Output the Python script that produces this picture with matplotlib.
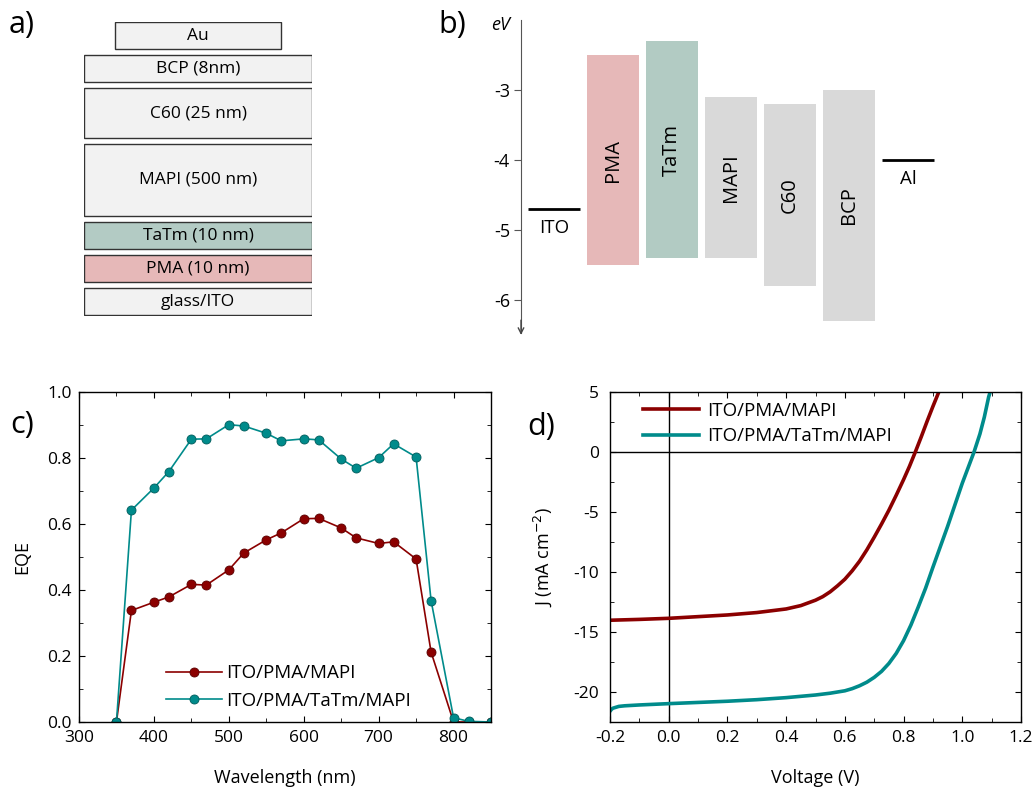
import matplotlib
matplotlib.use('Agg')
import matplotlib.pyplot as plt
from matplotlib.patches import Rectangle
from matplotlib.ticker import MultipleLocator

plt.rcParams['font.family'] = ['Open Sans', 'DejaVu Sans']
plt.rcParams['axes.unicode_minus'] = False

# ---- data ----
# a) device stack, top to bottom
stack_labels = ['Au', 'BCP (8nm)', 'C60 (25 nm)', 'MAPI (500 nm)', 'TaTm (10 nm)', 'PMA (10 nm)', 'glass/ITO']
stack_colors = ['#f2f2f2', '#f2f2f2', '#f2f2f2', '#f2f2f2', '#b3cbc4', '#e6b8b8', '#f2f2f2']

# b) energy levels (eV)
band_names = ['PMA', 'TaTm', 'MAPI', 'C60', 'BCP']
band_top = [-2.5, -2.3, -3.1, -3.2, -3.0]
band_bottom = [-5.5, -5.4, -5.4, -5.8, -6.3]
band_colors = ['#e6b8b8', '#b2cbc3', '#d9d9d9', '#d9d9d9', '#d9d9d9']
ito_level = -4.7
al_level = -4.0

# c) EQE
wl = [350, 370, 400, 420, 450, 470, 500, 520, 550, 570, 600, 620, 650, 670, 700, 720, 750, 770, 800, 820, 850]
eqe_pma = [0.0, 0.338, 0.363, 0.379, 0.417, 0.415, 0.461, 0.512, 0.552, 0.573, 0.616, 0.617, 0.588, 0.558,
           0.541, 0.546, 0.494, 0.212, 0.0, 0.0, 0.0]
eqe_tatm = [0.0, 0.642, 0.709, 0.759, 0.857, 0.858, 0.901, 0.897, 0.875, 0.852, 0.858, 0.855, 0.797, 0.769,
            0.801, 0.843, 0.803, 0.368, 0.013, 0.002, 0.0]

# d) J-V
v_pma = [-0.2, -0.1, 0.0, 0.1, 0.2, 0.3, 0.4, 0.45, 0.5, 0.525, 0.55, 0.575, 0.6, 0.625, 0.65, 0.675,
         0.7, 0.725, 0.75, 0.775, 0.8, 0.82, 0.84, 0.86, 0.88, 0.9, 0.92]
j_pma = [-14.02, -13.95, -13.86, -13.72, -13.58, -13.38, -13.08, -12.8, -12.35, -12.05, -11.65, -11.15,
         -10.6, -9.9, -9.1, -8.15, -7.1, -6.0, -4.85, -3.6, -2.3, -1.2, 0.0, 1.25, 2.55, 3.8, 5.0]
v_tatm = [-0.2, -0.195, -0.19, -0.17, -0.15, -0.1, 0.0, 0.1, 0.2, 0.3, 0.4, 0.5, 0.55, 0.6, 0.625, 0.65,
          0.675, 0.7, 0.725, 0.75, 0.775, 0.8, 0.825, 0.85, 0.875, 0.9, 0.925, 0.95, 0.975, 1.0, 1.02,
          1.04, 1.06, 1.075, 1.09, 1.095]
j_tatm = [-21.6, -21.45, -21.35, -21.2, -21.15, -21.08, -20.97, -20.87, -20.77, -20.64, -20.47, -20.25,
          -20.1, -19.9, -19.72, -19.48, -19.18, -18.78, -18.28, -17.62, -16.78, -15.72, -14.42, -12.92,
          -11.35, -9.6, -7.9, -6.2, -4.4, -2.6, -1.3, 0.0, 1.5, 2.9, 4.6, 5.0]

red = '#8b0000'
teal = '#008b8b'

W, H = 1034, 788
fig = plt.figure(figsize=(W / 100, H / 100), dpi=100)


def px_axes(left, top, right, bottom):
    return fig.add_axes([left / W, 1 - bottom / H, (right - left) / W, (bottom - top) / H])


# ---------- a) ----------
axa = px_axes(84, 22, 312, 316)
axa.set_xlim(0, 1)
axa.set_ylim(316, 22)
axa.axis('off')
heights = [27, 27, 50, 72, 27, 27, 27]
y = 22
for i, (lab, col) in enumerate(zip(stack_labels, stack_colors)):
    h = heights[i]
    x0, x1 = (0.136, 0.864) if lab == 'Au' else (0.0, 1.0)
    axa.add_patch(Rectangle((x0, y), x1 - x0, h, facecolor=col, edgecolor='#333333', lw=1.0))
    axa.text((x0 + x1) / 2, y + h / 2, lab, ha='center', va='center', fontsize=12.5)
    y += h + 6

# ---------- b) ----------
axb = px_axes(521, 20, 960, 333)
axb.set_ylim(-6.47, -2.0)
axb.set_xlim(0, 439 / 59)
for s in ['top', 'right', 'bottom']:
    axb.spines[s].set_visible(False)
axb.spines['left'].set_color('#555555')
axb.set_xticks([])
axb.set_yticks([-6, -5, -4, -3])
axb.tick_params(axis='y', direction='out', length=5, labelsize=13, color='#555555', pad=3)
axb.annotate('', xy=(0, -0.015), xycoords='axes fraction', xytext=(0, 0.05),
             arrowprops=dict(arrowstyle='->', lw=1.0, color='#444444'))
axb.text(-0.025, 0.985, 'eV', transform=axb.transAxes, ha='right', va='center', fontsize=13, style='italic')
for i, name in enumerate(band_names):
    xc = i + 1.56
    axb.bar(xc, band_top[i] - band_bottom[i], bottom=band_bottom[i], width=0.88, color=band_colors[i])
    axb.text(xc, (band_top[i] + band_bottom[i]) / 2, name, rotation=90, ha='center', va='center', fontsize=14.5)
axb.hlines([ito_level, al_level], [0.12, 6.12], [1.0, 7.0], color='black', lw=2)
axb.annotate('ITO', (0.56, ito_level), xytext=(0, -7), textcoords='offset points', ha='center', va='top', fontsize=13.5)
axb.annotate('Al', (6.56, al_level), xytext=(0, -7), textcoords='offset points', ha='center', va='top', fontsize=13.5)


def style_axes(ax, ypad):
    ax.tick_params(which='both', direction='in', top=True, right=True, labelsize=12.5)
    ax.tick_params(which='major', length=4)
    ax.tick_params(which='minor', length=3)
    ax.tick_params(axis='x', pad=6)
    ax.tick_params(axis='y', pad=ypad)
    for s in ax.spines.values():
        s.set_linewidth(1.0)


# ---------- c) ----------
axc = px_axes(79, 392, 491, 722)
axc.plot(wl, eqe_pma, '-o', color=red, lw=1.2, ms=6.5, mec='#5a0000', mew=0.6, label='ITO/PMA/MAPI')
axc.plot(wl, eqe_tatm, '-o', color=teal, lw=1.2, ms=6.5, mec='#005c5c', mew=0.6, label='ITO/PMA/TaTm/MAPI')
axc.set_xlim(300, 850)
axc.set_ylim(0, 1.0)
axc.xaxis.set_major_locator(MultipleLocator(100))
axc.xaxis.set_minor_locator(MultipleLocator(50))
axc.yaxis.set_major_locator(MultipleLocator(0.2))
axc.yaxis.set_minor_locator(MultipleLocator(0.1))
style_axes(axc, 5)
axc.set_xlabel('Wavelength (nm)', fontsize=13, labelpad=16)
axc.set_ylabel('EQE', fontsize=13, labelpad=12)
axc.legend(loc='upper left', bbox_to_anchor=(0.21, 0.175), frameon=False, fontsize=13.5, handlelength=3,
           borderpad=0, borderaxespad=0, handletextpad=0.25, labelspacing=0.5)

# ---------- d) ----------
axd = px_axes(610, 392, 1021, 722)
axd.axhline(0, color='black', lw=1.0)
axd.axvline(0, color='black', lw=1.0)
axd.plot(v_pma, j_pma, color=red, lw=2.6, label='ITO/PMA/MAPI')
axd.plot(v_tatm, j_tatm, color=teal, lw=2.6, label='ITO/PMA/TaTm/MAPI')
axd.set_xlim(-0.2, 1.2)
axd.set_ylim(-22.5, 5)
axd.xaxis.set_major_locator(MultipleLocator(0.2))
axd.xaxis.set_minor_locator(MultipleLocator(0.1))
axd.yaxis.set_major_locator(MultipleLocator(5))
axd.yaxis.set_minor_locator(MultipleLocator(2.5))
style_axes(axd, 8)
axd.set_xlabel('Voltage (V)', fontsize=13, labelpad=16)
axd.set_ylabel('J (mA cm$^{-2}$)', fontsize=13, labelpad=14)
axd.legend(loc='upper left', bbox_to_anchor=(0.08, 0.97), frameon=False, fontsize=13.5, handlelength=3,
           borderpad=0, borderaxespad=0, handletextpad=0.4, labelspacing=0.4)

# panel letters
for lab, (px, py) in zip(['a)', 'b)', 'c)', 'd)'], [(22, 25), (452, 25), (22, 425), (541, 427)]):
    fig.text(px / W, 1 - py / H, lab, ha='center', va='center', fontsize=22)

fig.savefig('out.png', dpi=100)
